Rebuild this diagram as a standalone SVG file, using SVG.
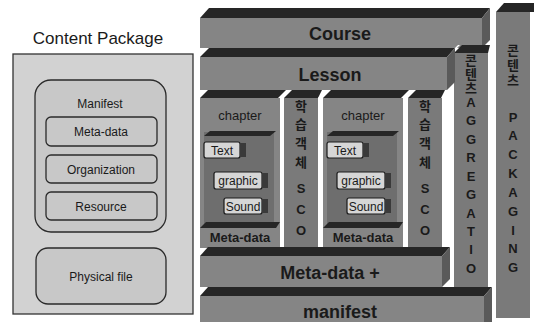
<svg xmlns="http://www.w3.org/2000/svg" width="534" height="322" viewBox="0 0 534 322">
<defs>
<style>
.lbl{font-family:"Liberation Sans",Arial,sans-serif;fill:#1a1a1a;text-anchor:middle}
.box{fill:#c8c8c8;stroke:#2a2a2a;stroke-width:1.3}
.front{fill:#858585}
.top{fill:#262626}
.side{fill:#5a5a5a}
.col{fill:#7a7a7a}
.big{font-size:18px;font-weight:bold;fill:#1a1a1a}
.mid{font-size:13px}
.vt{font-family:"Liberation Sans","Noto Sans CJK KR",sans-serif;font-size:13px;font-weight:bold;fill:#1a1a1a;text-anchor:middle;dominant-baseline:central}
.tab{fill:#d6d6d6;stroke:#1a1a1a;stroke-width:1.2}
.tabs{fill:#3a3a3a}
</style>
</defs>
<rect width="534" height="322" fill="#ffffff"/>

<g id="content-package">
<text class="lbl" x="98" y="44" font-size="17">Content Package</text>
<rect x="13" y="54" width="180" height="260" fill="#d2d2d2" stroke="#333" stroke-width="1.3"/>
</g>
<g id="manifest-box">
<rect class="box" x="35" y="80" width="131" height="152" rx="16" fill="#cccccc"/>
<text class="lbl" x="100" y="108" font-size="12">Manifest</text>
</g>
<g id="meta-data-box">
<rect class="box" x="46" y="117" width="111" height="29" rx="5"/>
<text class="lbl" x="101" y="136" font-size="12">Meta-data</text>
</g>
<g id="organization-box">
<rect class="box" x="46" y="155" width="111" height="28" rx="5"/>
<text class="lbl" x="101" y="174" font-size="12">Organization</text>
</g>
<g id="resource-box">
<rect class="box" x="46" y="192" width="111" height="28" rx="5"/>
<text class="lbl" x="101" y="211" font-size="12">Resource</text>
</g>
<g id="physical-file-box">
<rect class="box" x="36" y="248" width="130" height="56" rx="12"/>
<text class="lbl" x="101" y="281" font-size="12">Physical file</text>
</g>

<g id="packaging-col">
<polygon class="top" points="496,12 504,3 534,3 534,12"/>
<rect class="col" x="496" y="12" width="34" height="306"/>
<text class="vt" x="513" y="50">콘</text>
<text class="vt" x="513" y="65">텐</text>
<text class="vt" x="513" y="80">츠</text>
<text class="vt" x="513" y="117">P</text>
<text class="vt" x="513" y="135">A</text>
<text class="vt" x="513" y="154">C</text>
<text class="vt" x="513" y="173">K</text>
<text class="vt" x="513" y="192">A</text>
<text class="vt" x="513" y="211">G</text>
<text class="vt" x="513" y="230">I</text>
<text class="vt" x="513" y="248">N</text>
<text class="vt" x="513" y="267">G</text>
</g>

<g id="course">
<polygon class="top" points="200,18 209,8 490,8 482,18"/>
<rect class="front" x="200" y="18" width="282" height="30"/>
<polygon class="side" points="482,18 490,8 490,40 482,48"/>
<text class="lbl big" x="340" y="40">Course</text>
</g>

<g id="aggregation-col">
<polygon points="450,53 458,45 460,45 452,53" fill="#fff"/>
<polygon class="top" points="454,53 462,45 490,45 488,53"/>
<rect class="col" x="454" y="53" width="34" height="234"/>
<text class="vt" x="471" y="60">콘</text>
<text class="vt" x="471" y="74">텐</text>
<text class="vt" x="471" y="88">츠</text>
<text class="vt" x="471" y="102">A</text>
<text class="vt" x="471" y="120">G</text>
<text class="vt" x="471" y="139">G</text>
<text class="vt" x="471" y="157">R</text>
<text class="vt" x="471" y="176">E</text>
<text class="vt" x="471" y="194">G</text>
<text class="vt" x="471" y="213">A</text>
<text class="vt" x="471" y="231">T</text>
<text class="vt" x="471" y="249">I</text>
<text class="vt" x="471" y="268">O</text>
</g>

<g id="lesson">
<polygon class="top" points="200,57 209,48 455,48 447,57"/>
<rect class="front" x="200" y="57" width="247" height="33"/>
<polygon class="side" points="447,57 455,48 455,82 447,90"/>
<text class="lbl big" x="330" y="81">Lesson</text>
</g>

<g id="chapter-1">
<polygon class="top" points="200,98 208,90 286,90 278,98"/>
<rect class="front" x="200" y="98" width="80" height="150"/>
<text class="lbl mid" x="240" y="120">chapter</text>
<rect x="204" y="132" width="70" height="92" fill="#6e6e6e"/>
<polygon class="top" points="204,136 210,131 276,131 270,136"/>
<rect class="tab" x="204" y="142" width="36" height="16" rx="2"/>
<rect class="tabs" x="240" y="143" width="6" height="14"/>
<text class="lbl" x="222" y="155" font-size="12">Text</text>
<rect class="tab" x="214" y="172" width="48" height="17" rx="2"/>
<rect class="tabs" x="262" y="173" width="6" height="15"/>
<text class="lbl" x="238" y="185" font-size="12">graphic</text>
<rect class="tab" x="224" y="198" width="38" height="16" rx="2"/>
<rect class="tabs" x="262" y="199" width="6" height="14"/>
<text class="lbl" x="243" y="211" font-size="12">Sound</text>
<polygon class="top" points="200,228 206,222 280,222 276,228"/>
<text class="lbl mid" x="240" y="242" font-weight="bold">Meta-data</text>
</g>

<g id="sco-1">
<polygon points="280,98 288,90 291,90 283,98" fill="#fff"/>
<polygon class="top" points="284,98 292,90 322,90 318,98"/>
<rect class="col" x="284" y="98" width="34" height="150"/>
<text class="vt" x="301" y="106">학</text>
<text class="vt" x="301" y="124">습</text>
<text class="vt" x="301" y="143">객</text>
<text class="vt" x="301" y="162">체</text>
<text class="vt" x="301" y="188">S</text>
<text class="vt" x="301" y="209">C</text>
<text class="vt" x="301" y="230">O</text>
</g>

<g id="chapter-2">
<polygon points="318,98 326,90 329,90 321,98" fill="#fff"/>
<polygon class="top" points="323,98 331,90 409,90 401,98"/>
<rect class="front" x="323" y="98" width="80" height="150"/>
<text class="lbl mid" x="363" y="120">chapter</text>
<rect x="327" y="132" width="70" height="92" fill="#6e6e6e"/>
<polygon class="top" points="327,136 333,131 399,131 393,136"/>
<rect class="tab" x="327" y="142" width="36" height="16" rx="2"/>
<rect class="tabs" x="363" y="143" width="6" height="14"/>
<text class="lbl" x="345" y="155" font-size="12">Text</text>
<rect class="tab" x="337" y="172" width="48" height="17" rx="2"/>
<rect class="tabs" x="385" y="173" width="6" height="15"/>
<text class="lbl" x="361" y="185" font-size="12">graphic</text>
<rect class="tab" x="347" y="198" width="38" height="16" rx="2"/>
<rect class="tabs" x="385" y="199" width="6" height="14"/>
<text class="lbl" x="366" y="211" font-size="12">Sound</text>
<polygon class="top" points="323,228 329,222 403,222 399,228"/>
<text class="lbl mid" x="363" y="242" font-weight="bold">Meta-data</text>
</g>

<g id="sco-2">
<polygon points="403,98 411,90 414,90 406,98" fill="#fff"/>
<polygon class="top" points="408,98 416,90 445,90 441,98"/>
<rect class="col" x="408" y="98" width="34" height="150"/>
<text class="vt" x="425" y="106">학</text>
<text class="vt" x="425" y="124">습</text>
<text class="vt" x="425" y="143">객</text>
<text class="vt" x="425" y="162">체</text>
<text class="vt" x="425" y="188">S</text>
<text class="vt" x="425" y="209">C</text>
<text class="vt" x="425" y="230">O</text>
</g>

<g id="meta-data-bar">
<polygon class="top" points="200,256 208,247 450,247 442,256"/>
<rect class="front" x="200" y="256" width="242" height="31"/>
<polygon class="side" points="442,256 450,247 450,279 442,287"/>
<text class="lbl big" x="330" y="279">Meta-data +</text>
</g>

<g id="manifest-bar">
<polygon class="top" points="200,296 208,287 492,287 484,296"/>
<rect class="front" x="200" y="296" width="284" height="26"/>
<polygon class="side" points="484,296 492,287 492,322 484,322"/>
<text class="lbl big" x="340" y="318">manifest</text>
</g>

<g id="connectors"></g>
</svg>
